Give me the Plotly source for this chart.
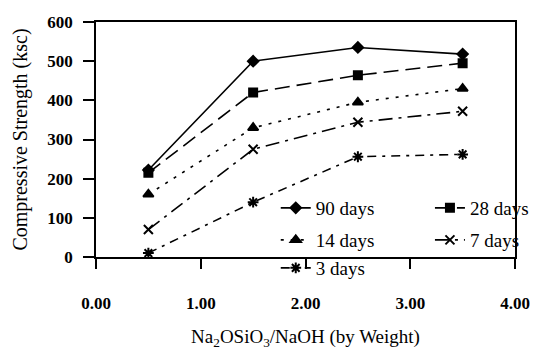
import plotly.graph_objects as go

# Na2OSiO3/NaOH ratio (by weight)
ratio = [0.5, 1.5, 2.5, 3.5]

# Compressive strength (ksc) by curing age
days_90 = [222, 500, 535, 518]
days_28 = [215, 420, 464, 495]
days_14 = [160, 330, 395, 430]
days_7 = [70, 275, 344, 372]
days_3 = [10, 140, 256, 262]

x_ticks = [0, 1, 2, 3, 4]
y_ticks = [0, 100, 200, 300, 400, 500, 600]

FONT = "Liberation Serif"

# name, values, dash, marker symbol, marker size, legend id, legend x, legend y
series = [
    ("90 days", days_90, "solid", "diamond", 8, "legend", 0.429, 0.2085),
    ("28 days", days_28, "15px,7px", "square", 8, "legend2", 0.797, 0.2085),
    ("14 days", days_14, "3px,7px", "triangle-up", 9, "legend3", 0.429, 0.0723),
    ("7 days", days_7, "14px,6px,3px,6px", "x-thin-open", 9, "legend4", 0.797, 0.0723),
    ("3 days", days_3, "9px,6px,3px,6px", "asterisk-open", 9, "legend5", 0.429, -0.0468),
]

fig = go.Figure()
legends = {}
for name, vals, dash, sym, size, leg, lx, ly in series:
    fig.add_trace(go.Scatter(
        x=ratio, y=vals, name=name, mode="lines+markers",
        line=dict(color="black", width=1.6, dash=dash),
        marker=dict(symbol=sym, size=size, color="black",
                    line=dict(color="black", width=2)),
        legend=leg,
    ))
    legends[leg] = dict(
        x=lx, y=ly, xanchor="left", yanchor="middle",
        bgcolor="rgba(0,0,0,0)", borderwidth=0,
        font=dict(family=FONT, size=19, color="black"),
    )

fig.update_layout(
    width=546, height=360,
    margin=dict(l=96, r=19, t=22, b=103),
    paper_bgcolor="white", plot_bgcolor="white",
    font=dict(family=FONT, size=18, color="black"),
    showlegend=True,
    **legends,
    xaxis=dict(
        range=[0, 4], tickvals=x_ticks, tickformat=".2f",
        showgrid=False, zeroline=False,
        showline=True, linecolor="black", linewidth=1.5, mirror=True,
        ticks="outside", ticklen=10, tickcolor="black", tickwidth=1.5,
        ticklabelstandoff=20,
        tickfont=dict(family=FONT, size=17, color="black", weight="bold"),
        title=dict(text="Na<sub>2</sub>OSiO<sub>3</sub>/NaOH (by Weight)",
                   font=dict(family=FONT, size=19), standoff=18),
    ),
    yaxis=dict(
        range=[0, 600], tickvals=y_ticks,
        showgrid=False, zeroline=False,
        showline=True, linecolor="black", linewidth=1.5, mirror=True,
        ticks="outside", ticklen=11, tickcolor="black", tickwidth=1.5,
        ticklabelstandoff=7,
        tickfont=dict(family=FONT, size=17, color="black", weight="bold"),
        title=dict(text="Compressive Strength (ksc)",
                   font=dict(family=FONT, size=20), standoff=14),
    ),
)

fig.write_html("out.html")
